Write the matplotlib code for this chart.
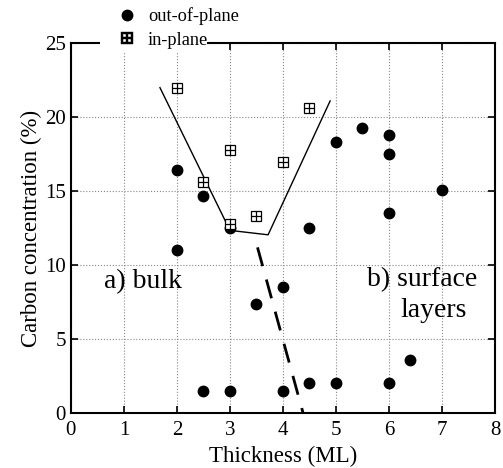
import matplotlib
matplotlib.use("Agg")
import matplotlib.pyplot as plt
from matplotlib.lines import Line2D
from matplotlib.patches import Rectangle

plt.rcParams['font.family'] = ['Liberation Serif', 'DejaVu Serif']

# in-plane data (boxed plus)
x_in = [2, 2.5, 3, 3, 3.5, 4, 4.5]
y_in = [22.0, 15.6, 17.8, 12.8, 13.3, 17.0, 20.6]

# out-of-plane data (filled circles)
x_out = [2, 2, 2.5, 2.5, 3, 3, 3.5, 4, 4, 4.5, 4.5, 5, 5, 5.5, 6, 6, 6, 6, 6.4, 7]
y_out = [16.4, 11.0, 14.7, 1.5, 12.5, 1.5, 7.4, 8.5, 1.5, 12.5, 2.0, 18.3, 2.0,
         19.3, 18.8, 17.5, 13.5, 2.0, 3.6, 15.1]

# guide lines
x_guide = [1.68, 3.0, 3.72, 4.89]
y_guide = [22.0, 12.35, 12.05, 21.1]
x_dash = [3.52, 4.38]
y_dash = [11.2, 0.0]

fig = plt.figure(figsize=(5.03, 4.68), dpi=100)
ax = fig.add_axes([0.141, 0.1175, 0.843, 0.79])

ax.plot(x_guide, y_guide, color='black', lw=1.0)
ax.plot(x_dash, y_dash, color='black', lw=2.0, dashes=(7, 5))

ax.plot(x_out, y_out, 'o', color='black', ms=7.5, zorder=3)
ax.plot(x_in, y_in, 's', mfc='white', mec='black', mew=0.9, ms=7, zorder=3)
ax.plot(x_in, y_in, '+', color='black', mew=0.9, ms=7, zorder=4)

ax.set_xlim(0, 8)
ax.set_ylim(0, 25)
ax.set_xticks(range(0, 9))
ax.set_yticks([0, 5, 10, 15, 20, 25])
ax.grid(True, color='#888888', linestyle=':', linewidth=0.8)
ax.tick_params(direction='in', top=True, right=True, length=5, width=1.2,
               labelsize=15)
ax.tick_params(axis='x', pad=6)
for s in ax.spines.values():
    s.set_linewidth(1.5)

ax.set_xlabel('Thickness (ML)', fontsize=16.5, labelpad=4)
ax.set_ylabel('Carbon concentration (%)', fontsize=16.5, labelpad=2)

ax.text(1.36, 8.9, 'a) bulk', fontsize=20, ha='center', va='center')
ax.text(6.62, 9.0, 'b) surface', fontsize=20, ha='center', va='center')
ax.text(6.84, 6.95, 'layers', fontsize=20, ha='center', va='center')

# white strip where the legend sits on the top spine
fig.patches.append(Rectangle((100 / 503, 1 - 52 / 468), 107 / 503, 20 / 468,
                             transform=fig.transFigure, facecolor='white',
                             edgecolor='none', zorder=5))

handles = [
    Line2D([], [], marker='o', color='black', ls='none', ms=7.5),
    Line2D([], [], marker='$\\boxplus$', color='black', ls='none', ms=8, mew=0.3),
]
leg = fig.legend(handles, ['out-of-plane', 'in-plane'], loc='upper left',
                 bbox_to_anchor=(0.205, 1.012), fontsize=13.2, frameon=False,
                 handletextpad=0.55, labelspacing=0.37, borderpad=0.2,
                 handlelength=1.2)
leg.set_zorder(10)

fig.savefig('out.png', dpi=100)
